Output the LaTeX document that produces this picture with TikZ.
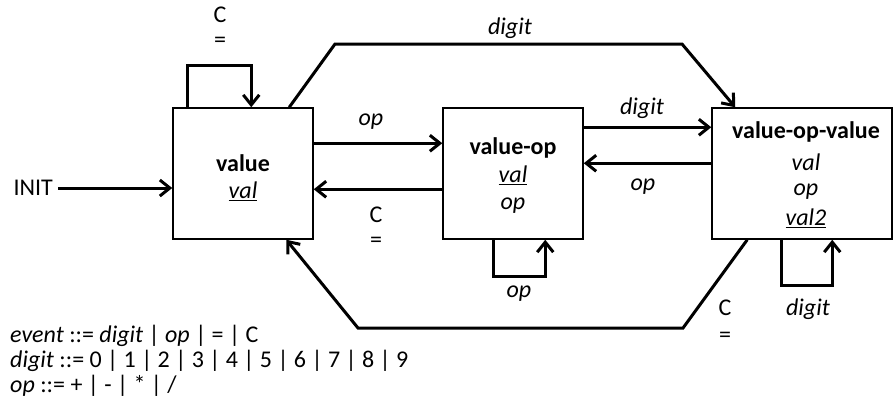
\documentclass[tikz,border=0pt]{standalone}
\usepackage{fontspec}
\setmainfont{Carlito}
\usetikzlibrary{arrows.meta,calc}
\begin{document}
\begin{tikzpicture}[x=1pt,y=-1pt,
  box/.style={draw,line width=1.5pt,minimum width=#1,minimum height=131pt,inner sep=0pt},
  arr/.style={line width=3pt,-{Straight Barb[length=10pt,width=16pt,line width=3pt]},line join=miter},
  lbl/.style={inner sep=0pt,font=\fontsize{24}{28}\selectfont},
  txt/.style={inner sep=0pt,anchor=west,font=\fontsize{24}{28}\selectfont}]
\useasboundingbox (0,0) rectangle (893,410);
% boxes
\node[box=140pt] (v) at (243,173.5) {};
\node[box=140pt] (vo) at (513,173.5) {};
\node[box=180pt] (vov) at (802,173.5) {};
% box texts
\node[lbl] (vt) at (243,163) {\textbf{value}};
\node[lbl] (vv) at (243,191) {\underline{\textit{val}}};
\node[lbl] (vot) at (513,148) {\textbf{value-op}};
\node[lbl] (vov1) at (513,175) {\underline{\textit{val}}};
\node[lbl] (vov2) at (513,206) {\textit{op}};
\node[lbl] (vvt) at (806,132) {\textbf{value-op-value}};
\node[lbl] (vvv1) at (806,162) {\textit{val}};
\node[lbl] (vvv2) at (806,192) {\textit{op}};
\node[lbl] (vvv3) at (806,218) {\underline{\textit{val2}}};
% INIT
\node[lbl,anchor=east] (init) at (53,188) {INIT};
\draw[arr] ([xshift=5pt]init.east) -- (init.east -| v.west);
% value self loop
\draw[arr] ($(v.north west)+(15,0)$) -- ++(0,-42) -| ($(v.north west)+(79,0)$);
\node[lbl] (l1) at (220,15) {C};
\node[lbl] (l2) at (220,42) {=};
% value <-> value-op
\draw[arr] ($(v.north east)+(0,36)$) -- ($(vo.north west)+(0,36)$);
\node[lbl] (l3) at (371,122) {\textit{op}};
\draw[arr] ($(vo.north west)+(0,82)$) -- ($(v.north east)+(0,82)$);
\node[lbl] (l4) at (376,215) {C};
\node[lbl] (l5) at (376,242) {=};
% value -> value-op-value top path
\draw[arr] ($(v.north west)+(117,0)$) -- (335,44) -- (682,44) -- ($(vov.north west)+(24,0)$);
\node[lbl] (l6) at (510,28) {\textit{digit}};
% value-op <-> value-op-value
\draw[arr] ($(vo.north east)+(0,20)$) -- ($(vov.north west)+(0,20)$);
\node[lbl] (l7) at (642,108) {\textit{digit}};
\draw[arr] ($(vov.north west)+(0,56)$) -- ($(vo.north east)+(0,56)$);
\node[lbl] (l8) at (643,187) {\textit{op}};
% value-op self loop
\draw[arr] ($(vo.south west)+(51,0)$) -- ++(0,37) -| ($(vo.south west)+(103,0)$);
\node[lbl] (l9) at (519,294) {\textit{op}};
% value-op-value self loop
\draw[arr] ($(vov.south west)+(70,0)$) -- ++(0,46) -| ($(vov.south west)+(121,0)$);
\node[lbl] (l10) at (808,309) {\textit{digit}};
% bottom path back to value
\draw[arr] ($(vov.south west)+(36,0)$) -- (683,328) -- (358,328) -- ($(v.south west)+(114,0)$);
\node[lbl] (l11) at (725,308) {C};
\node[lbl] (l12) at (725,337) {=};
% grammar
\node[txt] (g1) at (10,336) {\textit{event} ::= \textit{digit} | \textit{op} | = | C};
\node[txt] (g2) at (10,361) {\textit{digit} ::= 0 | 1 | 2 | 3 | 4 | 5 | 6 | 7 | 8 | 9};
\node[txt] (g3) at (10,386) {\textit{op} ::= + | - | * | /};
\end{tikzpicture}
\end{document}
